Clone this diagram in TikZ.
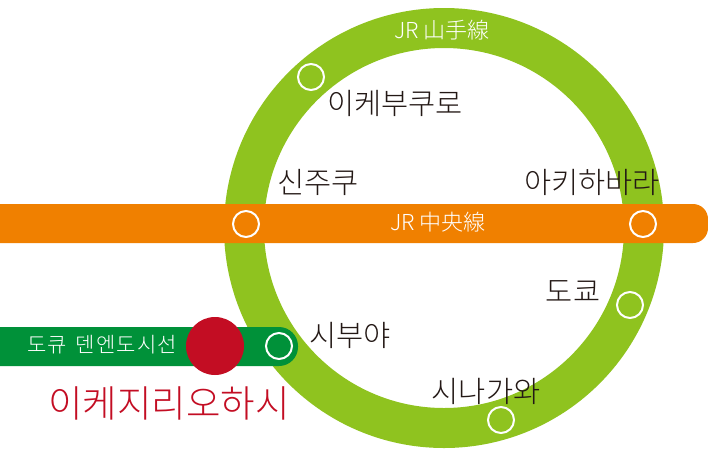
\documentclass[tikz,border=0pt]{standalone}
\usepackage{fontspec}
\setmainfont{Noto Sans CJK KR Light}
\definecolor{ringgreen}{HTML}{8FC31F}
\definecolor{barorange}{HTML}{F08000}
\definecolor{bargreen}{HTML}{009139}
\definecolor{stopred}{HTML}{C30D23}
\definecolor{labelink}{HTML}{231815}
\tikzset{
  stopring/.style={circle,draw=white,line width=2pt,minimum size=26pt,inner sep=0pt,fill=none},
  stationlabel/.style={text=labelink,font=\fontsize{29.5}{31}\selectfont,inner sep=0pt},
  linelabel/.style={text=white,font=\fontsize{22}{24}\selectfont,inner sep=0pt},
  smalllabel/.style={text=white,font=\fontsize{21}{23}\selectfont\addfontfeatures{LetterSpace=5},inner sep=0pt}
}
\begin{document}
\begin{tikzpicture}[x=1pt,y=-1pt]
\useasboundingbox (0,0) rectangle (708,448);
\coordinate (ringcentre) at (444,228);
\draw[ringgreen,line width=40pt] (ringcentre) circle[radius=200];
\fill[barorange,rounded corners=15pt] (-30,204) rectangle (708,243);
\fill[bargreen,rounded corners=19pt] (-30,327) rectangle (298,366);
\node[circle,fill=stopred,minimum size=58pt,inner sep=0pt] (ikejiri) at (215,346) {};
\node[stopring] (s1) at (311,77) {};
\node[stopring] (s2) at (246,224) {};
\node[stopring] (s3) at (643,224) {};
\node[stopring] (s4) at (630,305) {};
\node[stopring] (s5) at (501,420) {};
\node[stopring] (s6) at (279,346) {};
\node[linelabel] (yamanote) at (442,30) {JR 山手線};
\node[linelabel] (chuo) at (438,222) {JR 中央線};
\node[smalllabel] (tokyu) at (102,345) {도큐\hspace{9pt}덴엔도시선};
\node[stationlabel] (l1) at (395,103) {이케부쿠로};
\node[stationlabel] (l2) at (318,182) {신주쿠};
\node[stationlabel] (l3) at (592,182) {아키하바라};
\node[stationlabel] (l4) at (573,292) {도쿄};
\node[stationlabel] (l5) at (350,335) {시부야};
\node[stationlabel] (l6) at (486,391) {시나가와};
\node[text=stopred,font=\fontsize{37.5}{40}\selectfont,inner sep=0pt] (l7) at (169,403) {이케지리오하시};
\end{tikzpicture}
\end{document}
